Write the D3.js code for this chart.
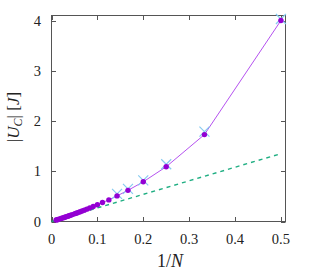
<!DOCTYPE html>
<html><head><meta charset="utf-8">
<script src="https://cdn.jsdelivr.net/npm/d3@7"></script>
<style>body{margin:0;background:#fff}svg{display:block}text{font-family:"Liberation Serif","DejaVu Serif",serif}</style>
</head><body>
<svg id="c" width="315" height="276"></svg>
<script>
// Data
const N = [2,3,4,5,6,7,8,9,10,11,12,13,14,15,16,17,18,19,20,22,24,26,28,30,33,36,40,45,50,60,70,80,100];
const UC = [4.00,1.73,1.09,0.79,0.62,0.51,0.43,0.378,0.333,0.298,0.270,0.246,0.226,0.209,0.195,0.182,0.171,0.161,0.152,0.137,0.125,0.115,0.106,0.098,0.089,0.081,0.073,0.065,0.058,0.048,0.041,0.036,0.029];
const crossN = [2,3,4,5,6,7];
const crossU = [4.03,1.79,1.14,0.82,0.65,0.55];
const linearSlope = [2.7];
const linearX = [0,0.5];
const xTicks = [0,0.1,0.2,0.3,0.4,0.5];
const yTicks = [0,1,2,3,4];

const svg = d3.select("#c");
const L=51.5, R=285.5, T=15.5, B=221.5;
const x = d3.scaleLinear().domain([0,0.51]).range([L,R]);
const y = d3.scaleLinear().domain([0,4.1]).range([B,T]);
const frameCol = "#555";

// ticks
const tl = 4.5;
const g = svg.append("g");
xTicks.forEach(t=>{
  const px = Math.round(x(t))+0.5;
  g.append("line").attr("x1",px).attr("x2",px).attr("y1",B).attr("y2",B-tl).attr("stroke",frameCol);
  g.append("line").attr("x1",px).attr("x2",px).attr("y1",T).attr("y2",T+tl).attr("stroke",frameCol);
  g.append("text").attr("x",x(t)).attr("y",244).attr("text-anchor","middle")
   .attr("font-size",14.5).attr("fill","#222").text(d3.format("")(t));
});
yTicks.forEach(t=>{
  const py = Math.round(y(t))+0.5;
  g.append("line").attr("x1",L).attr("x2",L+tl).attr("y1",py).attr("y2",py).attr("stroke",frameCol);
  g.append("line").attr("x1",R).attr("x2",R-tl).attr("y1",py).attr("y2",py).attr("stroke",frameCol);
  g.append("text").attr("x",41).attr("y",y(t)+5).attr("text-anchor","end")
   .attr("font-size",14.5).attr("fill","#222").text(t);
});

// frame
svg.append("rect").attr("x",L).attr("y",T).attr("width",R-L).attr("height",B-T)
  .attr("fill","none").attr("stroke",frameCol).attr("stroke-width",1);

// linear dashed
svg.append("path").datum(linearX)
  .attr("d", d3.line().x(d=>x(d)).y(d=>y(d*linearSlope[0])))
  .attr("stroke","#1fae82").attr("stroke-width",1.4).attr("stroke-dasharray","4,4").attr("fill","none");

// purple line
const pts = N.map((n,i)=>({x:1/n,y:UC[i]}));
svg.append("path").datum(pts)
  .attr("d", d3.line().x(d=>x(d.x)).y(d=>y(d.y)))
  .attr("stroke","#b552f0").attr("stroke-width",1).attr("fill","none");

// crosses
const cpts = crossN.map((n,i)=>({x:1/n,y:crossU[i]}));
const cs=5;
svg.append("g").selectAll("path").data(cpts).join("path")
  .attr("d", d=>{const cx=x(d.x), cy=y(d.y); return `M${cx-cs},${cy-cs}L${cx+cs},${cy+cs}M${cx-cs},${cy+cs}L${cx+cs},${cy-cs}`;})
  .attr("stroke","#87cbf0").attr("stroke-width",1.2).attr("fill","none");

// points
svg.append("g").selectAll("circle").data(pts).join("circle")
  .attr("cx",d=>x(d.x)).attr("cy",d=>y(d.y)).attr("r",2.7).attr("fill","#9400d3");

// axis titles
const xt = svg.append("text").attr("x",170).attr("y",267).attr("text-anchor","middle")
  .attr("font-size",18).attr("fill","#222");
xt.append("tspan").text("1/");
xt.append("tspan").attr("font-style","italic").text("N");

const yt = svg.append("text").attr("transform","translate(19,117) rotate(-90)").attr("text-anchor","middle")
  .attr("font-size",17).attr("fill","#222");
yt.append("tspan").text("|");
yt.append("tspan").attr("font-style","italic").text("U");
yt.append("tspan").attr("font-style","italic").attr("font-size",12).attr("dy",3).text("C");
yt.append("tspan").attr("dy",-3).text("| [");
yt.append("tspan").attr("font-style","italic").text("J");
yt.append("tspan").text("]");
</script>
</body></html>
